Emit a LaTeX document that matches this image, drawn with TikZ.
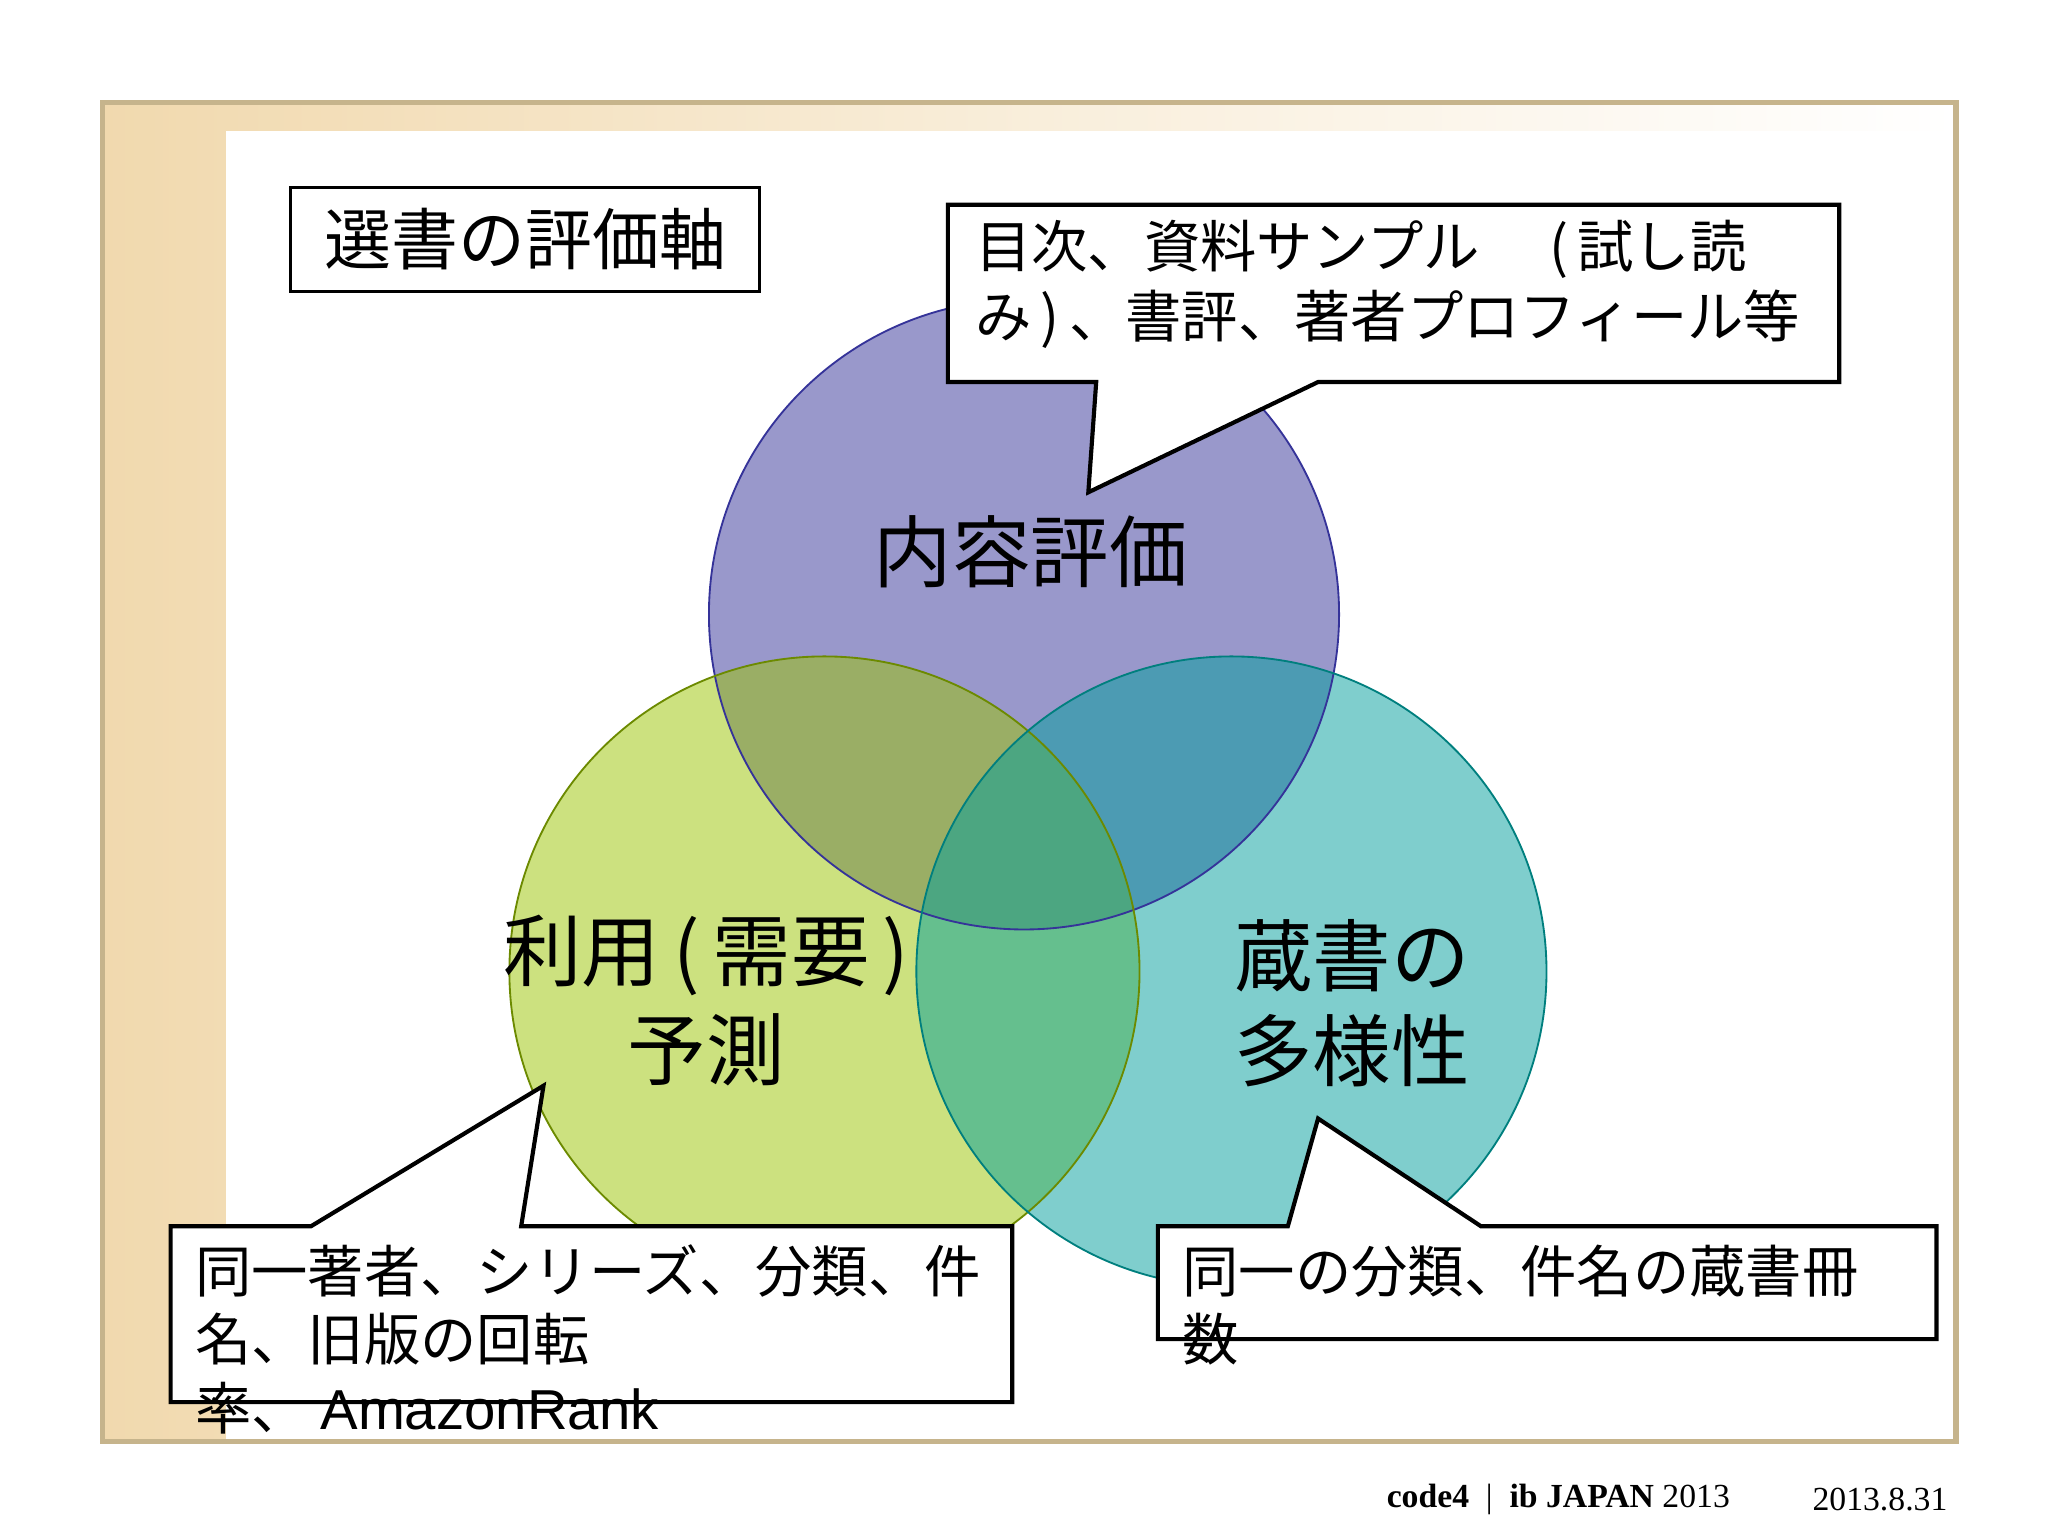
\documentclass[tikz,border=0pt]{standalone}
\usepackage{fontspec}
\setmainfont{Liberation Sans}
\newfontfamily\jp{Noto Sans CJK JP}
\newfontfamily\ser{Liberation Serif}
\definecolor{beige}{HTML}{F1D9AE}
\definecolor{frameC}{HTML}{C6B48C}
\definecolor{purp}{RGB}{53,51,153}
\definecolor{lime}{RGB}{155,197,0}
\definecolor{teal}{RGB}{0,159,157}
\tikzset{
  callout/.style={draw=black, fill=white, line width=0.9pt},
  circ/.style={fill=#1, fill opacity=0.5},
  small/.style={font=\jp\fontsize{12.2pt}{15pt}\selectfont, align=left, inner sep=0pt, anchor=west},
  big/.style={font=\jp\fontsize{17pt}{20pt}\selectfont, inner sep=0pt},
}
\begin{document}
\begin{tikzpicture}[x=0.01cm,y=-0.01cm]
\useasboundingbox (0,0) rectangle (1560,1170);
\fill[white] (0,0) rectangle (1560,1170);
% frame
\shade[left color=beige, right color=white, middle color=beige!45] (78,78) rectangle (1490,1098);
\fill[white] (172,100) rectangle (1488,1096);
\draw[frameC, line width=1.2pt] (78,78) rectangle (1490,1098);
% title
\node[draw=black, line width=0.7pt, minimum width=3.57cm, minimum height=0.79cm, font=\jp\fontsize{14.5pt}{16pt}\selectfont, inner sep=0pt] (title) at (400,182.5) {選書の評価軸};
% circles
\fill[circ=purp] (780,468) circle (240);
\fill[circ=lime] (628,740) circle (240);
\fill[circ=teal] (938,740) circle (240);
\draw[purp, line width=0.4pt] (780,468) circle (240);
\draw[lime!70!black, line width=0.4pt] (628,740) circle (240);
\draw[teal!80!black, line width=0.4pt] (938,740) circle (240);
% labels
\node[big] (l1) at (785,420) {内容評価};
\node[big] (l2) at (538,728) {利用\,(\,需要\,)};
\node[big] (l3) at (538,800) {予測};
\node[big] (l4) at (1030,728) {蔵書の};
\node[big] (l5) at (1030,800) {多様性};
% top callout
\draw[callout] (722,156) -- (1401,156) -- (1401,291) -- (1004,291) -- (829,375) -- (835,291) -- (722,291) -- cycle;
\node[small] (t1) at (742,190) {目次、資料サンプル　 (\,試し読};
\node[small] (t2) at (742,243) {み\,)\,、書評、著者プロフィール等};
% bottom-left callout
\draw[callout] (130,934) -- (237,934) -- (414,827) -- (397,934) -- (771,934) -- (771,1068) -- (130,1068) -- cycle;
\node[small] (b1) at (148,968) {同一著者、シリーズ、分類、件};
\node[small] (b2) at (148,1020) {名、旧版の回転};
\node[small] (b3) at (148,1073) {率、 \fontspec{Liberation Sans}AmazonRank};
% bottom-right callout
\draw[callout] (882,934) -- (981,934) -- (1004,852) -- (1128,934) -- (1475,934) -- (1475,1020) -- (882,1020) -- cycle;
\node[small] (r1) at (900,968) {同一の分類、件名の蔵書冊};
\node[small] (r2) at (900,1020) {数};
% footer
\node[font=\ser\fontsize{7.3pt}{8pt}\selectfont, inner sep=0pt] (f1) at (1187,1142) {\textbf{code4} \ | \ \textbf{ib JAPAN} 2013};
\node[font=\ser\fontsize{7.3pt}{8pt}\selectfont, inner sep=0pt] (f2) at (1432,1142) {2013.8.31};
\end{tikzpicture}
\end{document}
